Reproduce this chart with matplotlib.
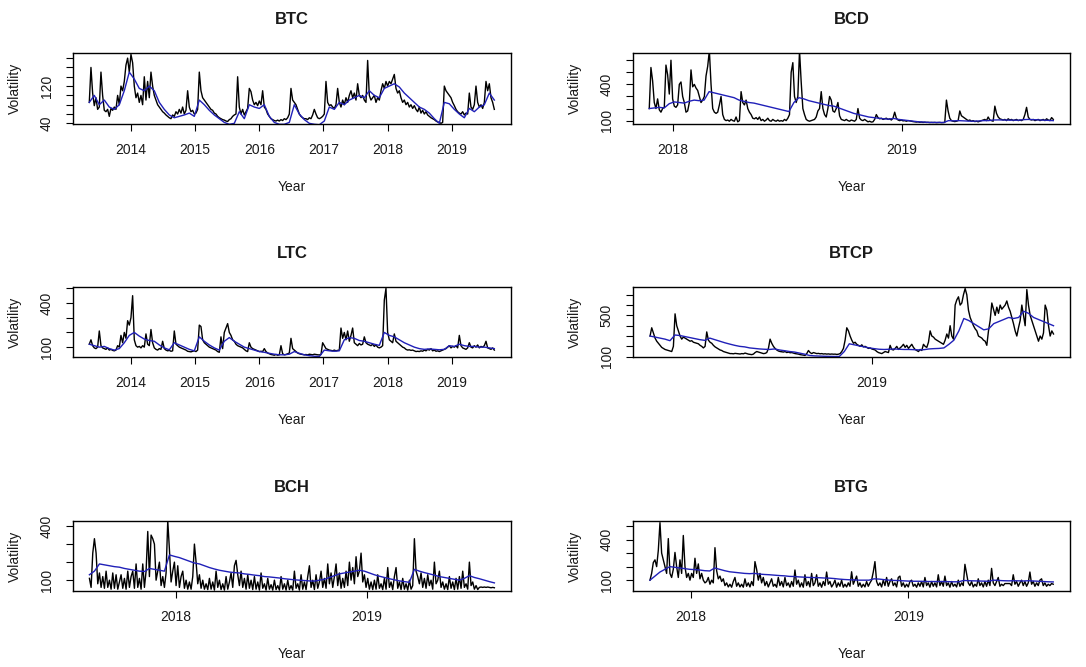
import numpy as np
import matplotlib
matplotlib.use("Agg")
import matplotlib.pyplot as plt

# ---------------- data ----------------
# observation windows (decimal years)
btc_start, btc_end = 2013.35, 2019.665
ltc_start, ltc_end = 2013.35, 2019.665
bcd_start, bcd_end = 2017.898, 2019.662
btcp_start, btcp_end = 2018.194, 2019.661
bch_start, bch_end = 2017.548, 2019.668
btg_start, btg_end = 2017.813, 2019.666

btc_vol = [85,160,105,78,95,70,75,150,100,68,
           65,70,55,72,68,75,70,100,80,120,
           110,130,165,180,150,188,170,120,95,105,
           85,100,80,140,90,130,95,150,120,100,
           90,80,75,70,65,62,58,55,52,50,
           58,55,65,60,70,62,75,60,68,110,
           75,65,68,60,62,70,150,110,95,90,
           85,80,75,70,68,62,60,55,52,50,
           48,47,45,44,48,50,55,58,60,140,
           75,60,70,58,65,72,115,108,90,80,
           85,78,88,80,110,75,70,60,55,50,
           48,46,45,47,45,48,46,50,48,52,
           60,115,90,85,80,70,60,55,52,50,
           50,48,52,50,58,70,60,52,50,52,
           55,60,130,85,78,80,75,72,80,115,
           85,75,90,80,95,85,100,110,95,105,
           90,125,100,95,100,90,85,175,100,90,
           95,100,85,95,90,110,125,115,130,120,
           130,125,135,145,115,105,110,95,85,90,
           80,85,75,80,72,78,70,65,75,62,
           68,60,65,58,55,52,50,48,45,43,
           42,40,42,120,110,105,100,95,85,78,
           70,65,62,60,65,58,62,60,105,75,
           70,80,120,85,75,80,72,85,130,110,
           125,95,85,70]
btc_fit = [85,100,80,90,75,70,80,110,150,135,115,110,120,110,85,70,58,52,55,58,
           62,55,90,80,68,58,50,42,38,40,65,50,80,75,72,80,55,42,38,38,
           42,80,60,48,40,38,37,45,75,70,85,80,90,95,100,95,110,100,95,115,
           120,125,118,105,95,85,75,70,62,50,40,85,82,70,60,52,72,65,75,80,
           105,90]

ltc_vol = [120,150,110,95,90,100,210,110,95,90,
           85,95,80,85,78,75,80,110,100,180,
           130,200,160,280,250,300,450,150,110,100,
           105,95,110,100,190,120,110,220,130,95,
           85,80,90,85,140,90,80,75,78,72,
           75,210,120,110,100,95,90,85,80,72,
           70,68,72,75,70,80,250,240,150,130,
           120,110,100,95,90,85,80,70,65,170,
           90,200,230,260,200,180,150,140,120,110,
           105,100,95,85,75,70,130,100,90,85,
           80,75,70,72,70,90,70,60,55,50,
           48,45,50,45,48,110,55,48,50,55,
           60,160,90,80,70,60,55,52,50,48,
           50,47,52,50,48,52,50,48,47,50,
           130,110,90,85,80,78,75,80,75,78,
           80,230,160,200,150,210,140,180,230,130,
           120,110,125,115,120,170,130,120,115,110,
           120,105,115,100,95,100,110,420,500,200,
           150,140,130,190,140,130,120,110,100,95,
           85,80,82,78,80,75,70,72,70,75,
           72,80,75,85,80,90,75,80,72,75,
           70,75,80,85,90,100,110,95,105,100,
           110,95,180,110,95,90,85,95,130,100,
           95,110,100,115,95,105,100,110,140,95,
           90,85,95,80]
ltc_fit = [120,110,100,105,90,80,90,130,180,200,175,155,145,140,115,95,82,130,115,100,
           85,75,170,140,115,95,80,140,165,140,120,100,90,80,70,65,58,52,48,48,
           52,70,58,48,42,38,36,80,75,72,75,150,165,160,145,140,130,120,112,200,
           180,170,150,130,115,100,90,85,88,85,82,85,110,105,120,110,105,105,100,100,
           95,90]

bcd_vol = [200,540,430,250,200,280,190,170,200,210,
           560,480,320,600,280,220,210,230,400,420,
           300,250,170,180,250,520,380,400,370,350,
           300,250,270,300,470,550,680,400,200,170,
           160,170,230,300,150,110,100,105,95,110,
           100,95,130,90,100,340,250,230,270,200,
           170,150,120,115,125,110,130,100,110,95,
           105,120,100,95,110,100,95,105,95,100,
           95,110,100,120,150,500,580,300,250,300,
           680,420,200,150,110,100,95,100,105,110,
           130,180,200,340,200,150,130,200,300,270,
           180,170,200,250,140,110,105,100,110,100,
           95,105,100,95,110,200,120,105,100,110,
           100,90,95,88,90,110,150,125,115,120,
           110,115,120,110,115,105,120,170,120,105,
           100,105,98,100,95,100,98,95,92,90,
           88,90,86,88,85,87,85,86,84,85,
           84,85,83,84,85,83,84,85,270,180,
           120,100,95,92,95,100,180,140,130,120,
           110,100,105,95,100,92,95,90,95,100,
           105,110,100,130,105,100,95,220,160,130,
           115,110,105,110,100,115,105,110,100,105,
           110,100,105,100,110,150,210,130,110,105,
           110,100,105,110,100,105,110,100,115,105,
           100,125,110]
bcd_fit = [200,205,210,205,240,255,250,245,260,270,265,270,340,330,320,310,300,290,270,260,
           250,245,235,225,215,205,195,185,175,250,290,280,265,255,245,235,225,220,205,190,
           175,160,150,140,130,125,120,115,112,118,110,105,100,95,90,88,85,85,85,84,
           100,98,100,98,96,95,97,100,100,105,106,105,104,104,103,108,110,108,106,104,
           102,100]

btcp_vol = [300,380,330,280,250,230,210,190,180,170,
            165,160,155,150,200,515,400,350,300,270,
            290,280,270,260,250,255,240,235,230,225,
            210,200,185,200,340,260,240,230,210,195,
            185,175,165,160,150,145,140,135,130,130,
            128,132,130,128,126,130,128,135,130,125,
            122,120,125,140,150,145,140,135,130,132,
            140,180,270,230,200,180,165,155,150,148,
            145,150,140,145,138,140,135,130,128,125,
            120,118,115,112,130,160,140,130,140,135,
            130,132,128,130,126,128,125,127,124,126,
            124,125,122,124,130,150,180,260,380,350,
            300,260,230,240,220,210,200,215,195,200,
            190,180,185,175,170,165,150,140,135,130,
            140,150,145,140,210,170,165,180,200,170,
            185,200,220,190,210,180,200,220,190,170,
            160,150,170,160,220,200,190,240,350,300,
            290,270,260,250,240,230,220,260,320,280,
            400,300,270,600,650,680,600,620,700,760,
            700,550,480,440,400,370,350,300,290,280,
            260,250,210,350,450,620,560,500,580,520,
            600,560,580,600,640,580,540,480,420,350,
            300,380,450,600,500,400,750,600,500,450,
            400,350,300,250,300,270,330,600,550,400,
            300,350,320]
btcp_fit = [300,290,280,270,255,310,305,295,285,275,265,258,280,265,250,235,222,210,200,195,
            185,180,175,172,170,175,165,158,150,145,135,125,112,108,106,104,103,102,102,150,
            225,215,205,195,185,178,172,170,172,175,172,170,170,168,166,168,175,178,180,185,
            220,260,350,470,450,420,390,360,370,420,440,460,480,470,480,540,520,480,460,440,
            420,400]

bch_vol = [110,60,250,330,250,80,140,60,120,55,
           150,60,100,50,140,55,130,50,90,130,
           55,110,50,150,60,120,150,55,190,60,
           110,50,190,60,150,370,120,350,330,300,
           100,150,200,70,120,60,140,430,270,90,
           150,200,70,180,60,120,150,55,100,50,
           90,50,120,300,200,80,130,55,100,50,
           80,48,110,50,90,45,150,60,100,48,
           80,45,120,50,90,140,60,180,210,130,
           70,150,60,110,50,130,55,100,48,120,
           50,90,45,140,55,80,45,110,50,75,
           45,100,48,70,45,120,50,80,45,100,
           48,70,45,150,55,80,45,130,50,90,
           48,120,180,60,100,48,130,55,90,150,
           60,110,55,190,80,140,60,120,190,70,
           140,55,110,60,150,70,200,100,170,80,
           230,120,150,250,90,130,60,110,50,90,
           48,100,50,130,55,80,48,110,50,170,
           60,90,48,120,170,55,90,48,110,50,
           80,45,100,50,70,330,150,120,80,140,
           60,110,55,130,70,100,50,200,80,100,
           150,60,90,50,80,48,120,55,90,48,
           110,50,120,55,150,60,80,50,200,70,
           90,50,70,48,60,62,60,62,60,62,
           60,58,60,58]
bch_fit = [130,150,190,185,180,175,172,165,160,155,150,148,165,160,155,150,240,232,225,215,
           205,195,190,180,170,162,155,150,145,142,140,135,132,128,125,120,118,115,112,108,
           105,102,100,98,96,95,100,105,115,125,135,140,145,150,155,150,140,130,122,115,
           108,102,96,92,88,160,150,142,135,128,120,115,110,105,100,110,125,115,108,100,
           92,85]

btg_vol = [100,150,230,250,200,320,525,300,250,200,
           150,407,150,120,180,305,200,120,250,150,
           430,200,120,150,100,150,120,262,150,220,
           110,150,100,80,90,120,70,100,80,340,
           170,110,130,90,110,60,80,50,70,48,
           90,120,55,80,50,70,48,110,55,80,
           50,90,60,237,180,100,150,80,120,60,
           90,50,80,110,55,70,48,120,60,90,
           50,120,60,80,48,90,55,175,70,100,
           50,80,48,140,60,90,50,150,60,80,
           140,55,80,48,90,60,160,70,90,50,
           70,100,48,80,55,100,48,70,50,80,
           55,162,70,100,130,55,80,48,70,50,
           90,55,80,100,160,237,90,60,80,50,
           100,60,120,55,90,110,60,80,50,120,
           130,55,80,48,70,50,90,100,55,70,
           48,80,55,90,50,120,60,80,48,90,
           55,80,50,140,60,90,55,130,60,80,
           48,90,55,70,50,100,55,80,60,217,
           150,80,60,90,50,70,55,110,60,80,
           50,90,55,100,60,187,80,60,90,120,
           55,70,60,75,75,75,75,60,140,70,
           90,55,80,100,60,90,55,80,160,70,
           90,55,80,60,100,110,60,80,55,70,
           60,75,70]
btg_fit = [100,130,160,180,200,195,190,185,180,178,175,170,168,190,180,170,162,158,154,150,
           148,150,145,142,140,137,134,132,128,127,124,122,120,119,118,116,115,112,108,105,
           103,102,100,100,100,110,108,104,100,98,97,95,93,92,92,91,90,90,90,90,
           89,88,88,98,96,95,94,93,92,100,98,96,95,96,95,94,96,94,92,90,
           88,87]

# ---------------- styling / layout ----------------
plt.rcParams['font.family'] = ['Liberation Sans', 'DejaVu Sans']
W, H = 1086, 667
fig = plt.figure(figsize=(W / 100, H / 100), dpi=100)
fig.patch.set_facecolor('white')

TXT = '#1a1a1a'
BLUE = '#2020b8'

panels = [
    dict(title='BTC', vol=btc_vol, fit=btc_fit, span=(btc_start, btc_end),
         box=(73, 53, 511, 124), xlim=(2013.096, 2019.925), ylim=(38.6, 191),
         yt=[40, 60, 80, 100, 120, 140, 160, 180], yl=[40, 120],
         xt=[2014, 2015, 2016, 2017, 2018, 2019]),
    dict(title='BCD', vol=bcd_vol, fit=bcd_fit, span=(bcd_start, bcd_end),
         box=(633, 53, 1070, 124), xlim=(2017.827, 2019.735), ylim=(72, 660),
         yt=[100, 200, 300, 400, 500, 600], yl=[100, 400], xt=[2018, 2019]),
    dict(title='LTC', vol=ltc_vol, fit=ltc_fit, span=(ltc_start, ltc_end),
         box=(73, 287, 511, 357), xlim=(2013.096, 2019.925), ylim=(33, 509),
         yt=[100, 200, 300, 400, 500], yl=[100, 400],
         xt=[2014, 2015, 2016, 2017, 2018, 2019]),
    dict(title='BTCP', vol=btcp_vol, fit=btcp_fit, span=(btcp_start, btcp_end),
         box=(633, 287, 1070, 357), xlim=(2018.132, 2019.721), ylim=(97, 775),
         yt=[100, 200, 300, 400, 500, 600, 700], yl=[100, 500], xt=[2019]),
    dict(title='BCH', vol=bch_vol, fit=bch_fit, span=(bch_start, bch_end),
         box=(73, 521, 511, 591), xlim=(2017.462, 2019.755), ylim=(40, 428),
         yt=[100, 200, 300, 400], yl=[100, 400], xt=[2018, 2019]),
    dict(title='BTG', vol=btg_vol, fit=btg_fit, span=(btg_start, btg_end),
         box=(633, 521, 1070, 591), xlim=(2017.735, 2019.743), ylim=(20, 537),
         yt=[100, 200, 300, 400, 500], yl=[100, 400], xt=[2018, 2019]),
]

for p in panels:
    l, t, r, b = p['box']
    ax = fig.add_axes([l / W, 1 - b / H, (r - l) / W, (b - t) / H])
    s, e = p['span']
    xv = np.linspace(s, e, len(p['vol']))
    xf = np.linspace(s, e, len(p['fit']))
    ax.plot(xv, p['vol'], color='black', lw=1.0)
    ax.plot(xf, p['fit'], color=BLUE, lw=1.0)
    ax.set_xlim(*p['xlim'])
    ax.set_ylim(*p['ylim'])
    ax.set_xticks(p['xt'])
    ax.set_xticklabels([str(v) for v in p['xt']])
    ax.set_yticks(p['yt'])
    ax.set_yticklabels([str(v) if v in p['yl'] else '' for v in p['yt']],
                       rotation=90, va='center')
    ax.tick_params(axis='both', direction='out', length=5, width=0.8,
                   colors='black', labelcolor=TXT, labelsize=10, pad=9)
    for sp in ax.spines.values():
        sp.set_linewidth(1.0)
        sp.set_color('black')
    ax.set_title(p['title'], fontsize=12, fontweight='bold', color=TXT, pad=21)
    ax.set_xlabel('Year', fontsize=10, color=TXT, va='center')
    ax.xaxis.set_label_coords(0.5, -62.7 / (b - t))
    ax.set_ylabel('Volatility', fontsize=10, color=TXT, ha='center', va='center')
    ax.yaxis.set_label_coords(-58.0 / (r - l), 0.5)

fig.savefig('out.png', dpi=100, facecolor='white')
